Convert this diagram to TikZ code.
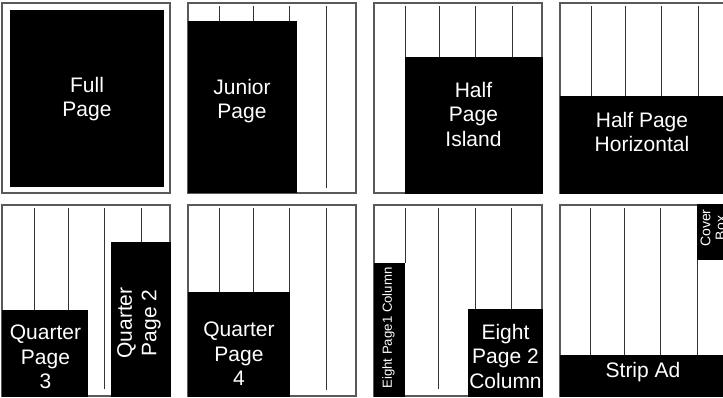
\documentclass[tikz,border=0pt]{standalone}
\usepackage{fontspec}
\setmainfont{Liberation Sans}
\begin{document}
\begin{tikzpicture}[x=1pt,y=-1pt,
  frame/.style={draw=black!65,line width=1.1pt,fill=white},
  colline/.style={draw=black!80,line width=1pt},
  adbox/.style={fill=black},
  adtext/.style={text=white,align=center,inner sep=0pt,font=\fontsize{21}{24.5}\selectfont},
  smalltext/.style={text=white,align=center,inner sep=0pt,font=\fontsize{13.2}{14}\selectfont}]
\useasboundingbox (0,0) rectangle (723,397);
\clip (0,0) rectangle (723,397);
\fill[white] (0,0) rectangle (723,397);
% ---------- row 1 ----------
\draw[frame] (2,3) rectangle (170,193);
\draw[frame] (188,3) rectangle (356,193);
\draw[frame] (374,3) rectangle (542,193);
\draw[frame] (560,3) rectangle (728,193);
% panel 1: full page
\fill[adbox] (10,10) rectangle (164,187);
\node[adtext] (full) at (87,99) {Full\\Page};
% panel 2: junior page
\foreach \x in {219.5,253.5,289.5} \draw[colline] (\x,6) -- (\x,21);
\draw[colline] (326.5,6) -- (326.5,188);
\fill[adbox] (188,21) rectangle (297,193);
\node[adtext] (junior) at (242,101) {Junior\\Page};
% panel 3: half page island
\draw[colline] (405.5,6) -- (405.5,190);
\foreach \x in {439.5,475.5,512.5} \draw[colline] (\x,6) -- (\x,57);
\fill[adbox] (405,57) rectangle (543,193.5);
\node[adtext] (island) at (473.5,114) {Half\\Page\\Island};
% panel 4: half page horizontal
\foreach \x in {591.5,625.5,661.5,698.5} \draw[colline] (\x,6) -- (\x,96);
\fill[adbox] (559.5,96) rectangle (728,193.5);
\node[adtext] (horiz) at (642,132) {Half Page\\Horizontal};
% ---------- row 2 ----------
\draw[frame] (2,205) rectangle (170,396);
\draw[frame] (188,205) rectangle (356,396);
\draw[frame] (374,205) rectangle (542,396);
\draw[frame] (560,205) rectangle (728,396);
% panel 5: quarter page 3 and 2
\foreach \x in {34,68} \draw[colline] (\x,208) -- (\x,310);
\draw[colline] (104,208) -- (104,389);
\draw[colline] (141,208) -- (141,242);
\fill[adbox] (1.5,310) rectangle (88,397);
\fill[adbox] (111,242) rectangle (170.5,397);
\node[adtext] (q3) at (45.5,357) {Quarter\\Page\\3};
\node[adtext,rotate=90] (q2) at (139,323) {Quarter\\Page 2};
% panel 6: quarter page 4
\foreach \x in {219.5,253.5,289.5} \draw[colline] (\x,208) -- (\x,292);
\draw[colline] (326.5,208) -- (326.5,390);
\fill[adbox] (187.5,292) rectangle (290,397);
\node[adtext] (q4) at (239,354) {Quarter\\Page\\4};
% panel 7: eighth page
\draw[colline] (405,208) -- (405,263);
\draw[colline] (438.5,208) -- (438.5,389);
\foreach \x in {475.5,511.5} \draw[colline] (\x,208) -- (\x,309);
\fill[adbox] (373.5,263) rectangle (405,397);
\fill[adbox] (468,309) rectangle (542.5,397);
\node[smalltext,rotate=90] (e1) at (388.5,328) {Eight Page1 Column};
\node[adtext] (e2) at (505.5,356) {Eight\\Page 2\\Column};
% panel 8: strip ad and cover box
\foreach \x in {590.5,624,660.5} \draw[colline] (\x,208) -- (\x,355);
\draw[colline] (697.5,260) -- (697.5,355);
\fill[adbox] (697,204) rectangle (728,260);
\fill[adbox] (559.5,355) rectangle (728,397);
\node[smalltext,rotate=90,font=\fontsize{14}{15}\selectfont] (cover) at (713,228) {Cover\\Box};
\node[adtext] (strip) at (643,372) {Strip Ad};
\end{tikzpicture}
\end{document}
